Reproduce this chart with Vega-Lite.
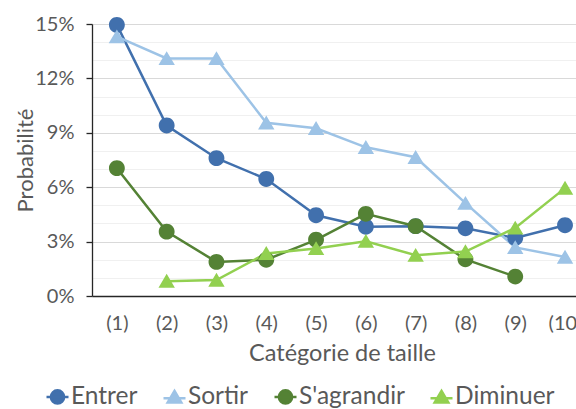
{
  "$schema": "https://vega.github.io/schema/vega-lite/v6.json",
  "autosize": {"type": "none"},
  "width": 484,
  "height": 272,
  "padding": {"left": 92, "top": 24, "right": 0, "bottom": 113},
  "background": "white",
  "config": {
    "font": "Lato",
    "view": {"stroke": null},
    "axis": {"labelFont": "Lato", "titleFont": "Lato", "labelColor": "#595959", "titleColor": "#595959", "titleFontWeight": "normal"},
    "legend": {"labelFont": "Lato"}
  },
  "data": {
    "values": [
      {"cat": "(1)", "series": "Entrer", "value": 0.1495},
      {"cat": "(2)", "series": "Entrer", "value": 0.094},
      {"cat": "(3)", "series": "Entrer", "value": 0.076},
      {"cat": "(4)", "series": "Entrer", "value": 0.0645},
      {"cat": "(5)", "series": "Entrer", "value": 0.0445},
      {"cat": "(6)", "series": "Entrer", "value": 0.0382},
      {"cat": "(7)", "series": "Entrer", "value": 0.0385},
      {"cat": "(8)", "series": "Entrer", "value": 0.0373},
      {"cat": "(9)", "series": "Entrer", "value": 0.032},
      {"cat": "(10)", "series": "Entrer", "value": 0.039},
      {"cat": "(1)", "series": "Sortir", "value": 0.143},
      {"cat": "(2)", "series": "Sortir", "value": 0.131},
      {"cat": "(3)", "series": "Sortir", "value": 0.131},
      {"cat": "(4)", "series": "Sortir", "value": 0.0955},
      {"cat": "(5)", "series": "Sortir", "value": 0.0925},
      {"cat": "(6)", "series": "Sortir", "value": 0.082},
      {"cat": "(7)", "series": "Sortir", "value": 0.0765},
      {"cat": "(8)", "series": "Sortir", "value": 0.0512},
      {"cat": "(9)", "series": "Sortir", "value": 0.0268},
      {"cat": "(10)", "series": "Sortir", "value": 0.0215},
      {"cat": "(1)", "series": "S'agrandir", "value": 0.0705},
      {"cat": "(2)", "series": "S'agrandir", "value": 0.0355},
      {"cat": "(3)", "series": "S'agrandir", "value": 0.0188},
      {"cat": "(4)", "series": "S'agrandir", "value": 0.02},
      {"cat": "(5)", "series": "S'agrandir", "value": 0.031},
      {"cat": "(6)", "series": "S'agrandir", "value": 0.0453},
      {"cat": "(7)", "series": "S'agrandir", "value": 0.0385},
      {"cat": "(8)", "series": "S'agrandir", "value": 0.0202},
      {"cat": "(9)", "series": "S'agrandir", "value": 0.0107},
      {"cat": "(2)", "series": "Diminuer", "value": 0.0082},
      {"cat": "(3)", "series": "Diminuer", "value": 0.0088},
      {"cat": "(4)", "series": "Diminuer", "value": 0.0235},
      {"cat": "(5)", "series": "Diminuer", "value": 0.0262},
      {"cat": "(6)", "series": "Diminuer", "value": 0.0302},
      {"cat": "(7)", "series": "Diminuer", "value": 0.0225},
      {"cat": "(8)", "series": "Diminuer", "value": 0.0245},
      {"cat": "(9)", "series": "Diminuer", "value": 0.0375},
      {"cat": "(10)", "series": "Diminuer", "value": 0.0595}
    ]
  },
  "encoding": {
    "x": {
      "field": "cat", "type": "ordinal",
      "sort": ["(1)", "(2)", "(3)", "(4)", "(5)", "(6)", "(7)", "(8)", "(9)", "(10)"],
      "scale": {"type": "point", "padding": 0.36, "align": 0.694},
      "axis": {
        "title": "Catégorie de taille", "titleFontSize": 23.5, "titleX": 250, "titleY": 57, "titleBaseline": "middle",
        "labelFontSize": 20, "labelAngle": 0, "labelPadding": 17, "ticks": false,
        "domainColor": "#262626", "domainWidth": 1.3, "grid": false
      }
    },
    "y": {
      "field": "value", "type": "quantitative",
      "scale": {"domain": [0, 0.15], "nice": false},
      "axis": {
        "title": "Probabilité", "titleFontSize": 22, "titleX": -67, "titleY": 136, "titleBaseline": "middle", "titleAngle": 270,
        "values": [0, 0.01, 0.02, 0.03, 0.04, 0.05, 0.06, 0.07, 0.08, 0.09, 0.1, 0.11, 0.12, 0.13, 0.14, 0.15],
        "format": ".0%",
        "labelExpr": "round(datum.value*100) % 3 === 0 ? datum.label : ''",
        "labelFontSize": 20, "labelPadding": 12,
        "tickSize": 6, "tickColor": "#262626", "tickWidth": 1.3,
        "tickOpacity": {"condition": {"test": "round(datum.value*100) % 3 === 0", "value": 1}, "value": 0},
        "domainColor": "#262626", "domainWidth": 1.3,
        "grid": true,
        "gridColor": {"condition": {"test": "round(datum.value*100) % 3 === 0", "value": "#D9D9D9"}, "value": "#F0F0F0"},
        "gridWidth": 1
      }
    },
    "color": {
      "field": "series", "type": "nominal",
      "scale": {"domain": ["Entrer", "Sortir", "S'agrandir", "Diminuer"], "range": ["#4170AD", "#9DC3E6", "#548235", "#92D050"]},
      "legend": {
        "title": null, "orient": "none", "direction": "horizontal",
        "legendX": -47, "legendY": 360, "padding": 0,
        "symbolSize": 484, "symbolStrokeWidth": 2.5,
        "labelFontSize": 24.5, "labelColor": "#595959", "labelOffset": 1, "columnPadding": 20,
        "encode": {
          "symbols": {"update": {
            "fill": {"scale": "color", "field": "value"},
            "stroke": {"scale": "color", "field": "value"},
            "strokeWidth": {"value": 2.5},
            "opacity": {"value": 1}
          }}
        }
      }
    }
  },
  "layer": [
    {
      "mark": {"type": "line", "strokeWidth": 2.5},
      "encoding": {"detail": {"field": "series"}}
    },
    {
      "mark": {"type": "point", "filled": true, "opacity": 1, "size": 700},
      "encoding": {
        "shape": {
          "field": "series", "type": "nominal",
          "scale": {
            "domain": ["Entrer", "Sortir", "S'agrandir", "Diminuer"],
            "range": [
              "M-1,0L1,0M-0.6,0A0.6,0.6,0,1,1,0.6,0A0.6,0.6,0,1,1,-0.6,0Z",
              "M-1,0.12L1,0.12M0,-0.55L0.62,0.5L-0.62,0.5Z",
              "M-1,0L1,0M-0.6,0A0.6,0.6,0,1,1,0.6,0A0.6,0.6,0,1,1,-0.6,0Z",
              "M-1,0.12L1,0.12M0,-0.55L0.62,0.5L-0.62,0.5Z"
            ]
          },
          "legend": {
            "title": null, "orient": "none", "direction": "horizontal",
            "legendX": -47, "legendY": 360, "padding": 0,
            "symbolSize": 484, "symbolStrokeWidth": 2.5,
            "labelFontSize": 24.5, "labelColor": "#595959", "labelOffset": 1, "columnPadding": 20,
            "encode": {
              "symbols": {"update": {
                "fill": {"scale": "color", "field": "value"},
                "stroke": {"scale": "color", "field": "value"},
                "strokeWidth": {"value": 2.5},
                "opacity": {"value": 1}
              }}
            }
          }
        }
      }
    }
  ]
}
